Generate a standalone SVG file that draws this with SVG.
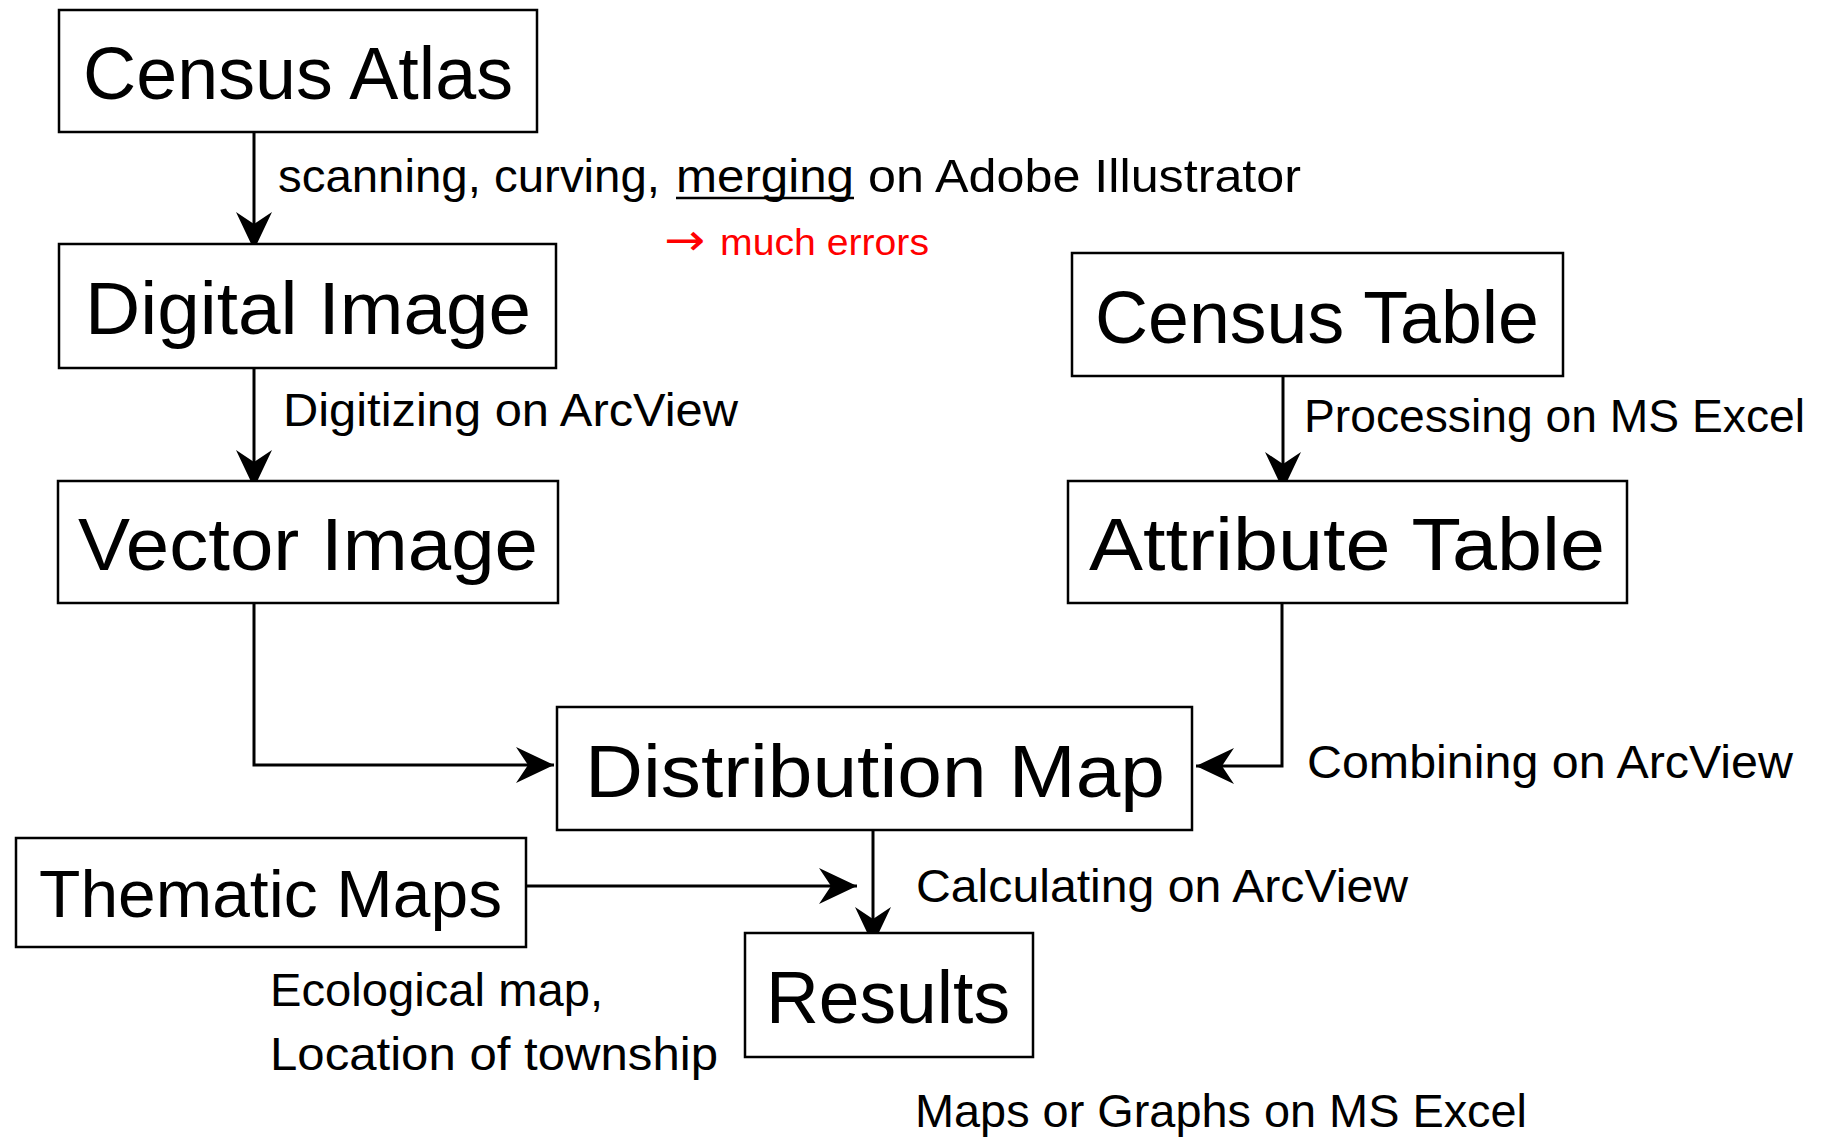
<svg xmlns="http://www.w3.org/2000/svg" width="1825" height="1137" viewBox="0 0 1825 1137">
<style>
.box{fill:#fff;stroke:#000;stroke-width:2.5}
.t{font-family:"Liberation Sans",Arial,sans-serif;fill:#000}
.big{font-size:74px}
.lbl{font-size:46px}
.red{font-size:36px;fill:#ff0000}
.arr{font-family:"DejaVu Sans",sans-serif;font-size:44px;fill:#ff0000}
.con{fill:none;stroke:#000;stroke-width:3}
</style>
<defs>
<marker id="ah" markerUnits="userSpaceOnUse" orient="auto" viewBox="-40 -20 42 40" refX="0" refY="0" markerWidth="42" markerHeight="40">
<path d="M0,0 L-38,-18 L-26,0 L-38,18 Z" fill="#000"/>
</marker>
</defs>
<g id="connectors">
<path class="con" d="M254,132 V250" marker-end="url(#ah)"/>
<path class="con" d="M254,368 V488" marker-end="url(#ah)"/>
<path class="con" d="M1283,376 V490" marker-end="url(#ah)"/>
<path class="con" d="M254,603 V765 H554" marker-end="url(#ah)"/>
<path class="con" d="M1282,603 V766 H1196" marker-end="url(#ah)"/>
<path class="con" d="M873,830 V945" marker-end="url(#ah)"/>
<path class="con" d="M526,886 H857" marker-end="url(#ah)"/>
</g>
<g id="census-atlas">
<rect class="box" x="59" y="10" width="478" height="122"/>
<text class="t big" x="83" y="99" textLength="430" lengthAdjust="spacingAndGlyphs">Census Atlas</text>
</g>
<g id="digital-image">
<rect class="box" x="59" y="244" width="497" height="124"/>
<text class="t big" x="85" y="334" textLength="446" lengthAdjust="spacingAndGlyphs">Digital Image</text>
</g>
<g id="vector-image">
<rect class="box" x="58" y="481" width="500" height="122"/>
<text class="t big" x="78" y="570" textLength="460" lengthAdjust="spacingAndGlyphs">Vector Image</text>
</g>
<g id="census-table">
<rect class="box" x="1072" y="253" width="491" height="123"/>
<text class="t big" x="1095" y="343" textLength="444" lengthAdjust="spacingAndGlyphs">Census Table</text>
</g>
<g id="attribute-table">
<rect class="box" x="1068" y="481" width="559" height="122"/>
<text class="t big" x="1089" y="570" textLength="516" lengthAdjust="spacingAndGlyphs">Attribute Table</text>
</g>
<g id="distribution-map">
<rect class="box" x="557" y="707" width="635" height="123"/>
<text class="t big" x="585" y="797" textLength="580" lengthAdjust="spacingAndGlyphs">Distribution Map</text>
</g>
<g id="thematic-maps">
<rect class="box" x="16" y="838" width="510" height="109"/>
<text class="t" style="font-size:66px" x="39" y="917" textLength="463" lengthAdjust="spacingAndGlyphs">Thematic Maps</text>
</g>
<g id="results">
<rect class="box" x="745" y="933" width="288" height="124"/>
<text class="t big" x="766" y="1023" textLength="244" lengthAdjust="spacingAndGlyphs">Results</text>
</g>
<g id="labels">
<text class="t lbl" x="278" y="192" textLength="382" lengthAdjust="spacingAndGlyphs">scanning, curving,</text>
<text class="t lbl" x="676" y="192" textLength="178" lengthAdjust="spacingAndGlyphs">merging</text>
<line x1="676" y1="198" x2="854" y2="198" stroke="#000" stroke-width="2.5"/>
<text class="t lbl" x="868" y="192" textLength="433" lengthAdjust="spacingAndGlyphs">on Adobe Illustrator</text>
<text class="arr" x="664" y="255" textLength="41" lengthAdjust="spacingAndGlyphs">→</text>
<text class="t red" x="720" y="255" textLength="209" lengthAdjust="spacingAndGlyphs">much errors</text>
<text class="t lbl" x="283" y="426" textLength="455" lengthAdjust="spacingAndGlyphs">Digitizing on ArcView</text>
<text class="t lbl" x="1304" y="432" textLength="501" lengthAdjust="spacingAndGlyphs">Processing on MS Excel</text>
<text class="t lbl" x="1307" y="778" textLength="486" lengthAdjust="spacingAndGlyphs">Combining on ArcView</text>
<text class="t lbl" x="916" y="902" textLength="492" lengthAdjust="spacingAndGlyphs">Calculating on ArcView</text>
<text class="t lbl" x="270" y="1006" textLength="333" lengthAdjust="spacingAndGlyphs">Ecological map,</text>
<text class="t lbl" x="270" y="1070" textLength="448" lengthAdjust="spacingAndGlyphs">Location of township</text>
<text class="t lbl" x="915" y="1127" textLength="612" lengthAdjust="spacingAndGlyphs">Maps or Graphs on MS Excel</text>
</g>
</svg>
